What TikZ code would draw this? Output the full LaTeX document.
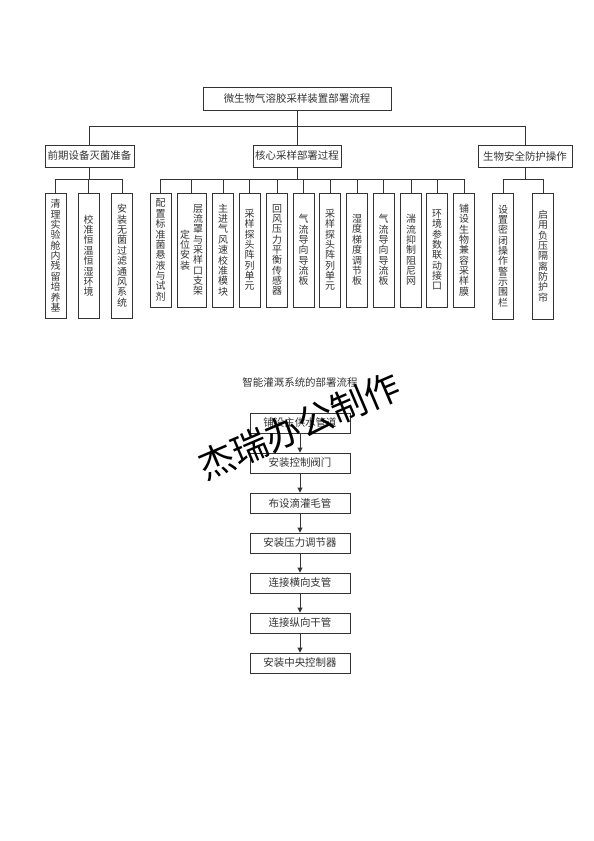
\documentclass[tikz,border=0pt]{standalone}
\usepackage{fontspec}
\setmainfont{Noto Sans CJK SC}
\newfontfamily\hei{Noto Sans CJK SC}
\usetikzlibrary{arrows.meta}
\XeTeXlinebreaklocale "zh"
\XeTeXlinebreakskip=0pt plus 1pt
\newcommand\vtxt[1]{\parbox{1em}{\centering #1}}
\tikzset{
  hbox/.style={draw=black!80,line width=.9bp,fill=white,inner sep=0pt,text=black!80,
    font=\fontsize{10.5}{11}\selectfont},
  vbox/.style={hbox,anchor=north,minimum width=21bp,font=\fontsize{10}{10.4}\selectfont},
  wire/.style={draw=black!80,line width=.9bp},
  arr/.style={wire,-{Triangle[length=5bp,width=5bp]}},
}
\begin{document}
\begin{tikzpicture}[x=1bp,y=-1bp]
  \path[use as bounding box,fill=white] (0,0) rectangle (594,841);
  % first chart
  \node[hbox,minimum width=188bp,minimum height=23bp] (root) at (297,98.5) {微生物气溶胶采样装置部署流程};
  \node[hbox,minimum width=89bp,minimum height=22bp] (pre) at (89.5,156) {前期设备灭菌准备};
  \node[hbox,minimum width=88bp,minimum height=22bp] (core) at (297,156) {核心采样部署过程};
  \node[hbox,minimum width=94bp,minimum height=22bp] (safe) at (525,156) {生物安全防护操作};
  \coordinate (top) at (0,126.5);
  \coordinate (bus) at (0,179);
  \draw[wire] (root) -- (core);
  \draw[wire] (pre.north) -- (pre.north |- top) -- (safe.north |- top) -- (safe.north);

  \node[vbox,minimum height=125.5bp] (p1) at (55.5,192.5) {\vtxt{清理实验舱内残留培养基}};
  \node[vbox,minimum height=125.5bp] (p2) at (88.5,192.5) {\vtxt{校准恒温恒湿环境}};
  \node[vbox,minimum height=125.5bp] (p3) at (122,192.5) {\vtxt{安装无菌过滤通风系统}};

  \node[vbox,minimum height=114bp] (c1) at (160.5,192.5) {\vtxt{配置标准菌悬液与试剂}};
  \node[vbox,minimum height=114bp,minimum width=29bp] (c2) at (191.5,192.5) {\vtxt{定位安装}\hspace{3bp}\vtxt{层流罩与采样口支架}};
  \node[vbox,minimum height=114bp] (c3) at (223,192.5) {\vtxt{主进气风速校准模块}};
  \node[vbox,minimum height=114bp] (c4) at (249.5,192.5) {\vtxt{采样探头阵列单元}};
  \node[vbox,minimum height=114bp] (c5) at (277,192.5) {\vtxt{回风压力平衡传感器}};
  \node[vbox,minimum height=114bp] (c6) at (303.5,192.5) {\vtxt{气流导向导流板}};
  \node[vbox,minimum height=114bp] (c7) at (330,192.5) {\vtxt{采样探头阵列单元}};
  \node[vbox,minimum height=114bp] (c8) at (357,192.5) {\vtxt{湿度梯度调节板}};
  \node[vbox,minimum height=114bp] (c9) at (383.5,192.5) {\vtxt{气流导向导流板}};
  \node[vbox,minimum height=114bp] (c10) at (411,192.5) {\vtxt{湍流抑制阻尼网}};
  \node[vbox,minimum height=114bp] (c11) at (437,192.5) {\vtxt{环境参数联动接口}};
  \node[vbox,minimum height=114bp] (c12) at (464,192.5) {\vtxt{铺设生物兼容采样膜}};

  \node[vbox,minimum height=126bp] (s1) at (503,192.5) {\vtxt{设置密闭操作警示围栏}};
  \node[vbox,minimum height=126bp] (s2) at (543,192.5) {\vtxt{启用负压隔离防护帘}};

  \foreach \n in {p1,p2,p3}
    \draw[wire] (pre.south) -- (pre.south |- bus) -| (\n.north);
  \foreach \n in {c1,c2,c3,c4,c5,c6,c7,c8,c9,c10,c11,c12}
    \draw[wire] (core.south) -- (core.south |- bus) -| (\n.north);
  \foreach \n in {s1,s2}
    \draw[wire] (safe.south) -- (safe.south |- bus) -| (\n.north);

  % second chart
  \node[text=black!80,font=\fontsize{10.5}{11}\selectfont] (title) at (300,383) {智能灌溉系统的部署流程};
  \foreach \i/\t in {1/铺设主供水管道,2/安装控制阀门,3/布设滴灌毛管,4/安装压力调节器,
                     5/连接横向支管,6/连接纵向干管,7/安装中央控制器}
    \node[hbox,minimum width=100bp,minimum height=20bp] (f\i) at (300,383+40*\i) {\t};
  \foreach \a/\b in {1/2,2/3,3/4,4/5,5/6,6/7}
    \draw[arr] (f\a) -- (f\b);

  \node[rotate=23,font=\hei\fontsize{36}{36}\selectfont] (mark) at (299,426) {杰瑞办公制作};
\end{tikzpicture}
\end{document}
